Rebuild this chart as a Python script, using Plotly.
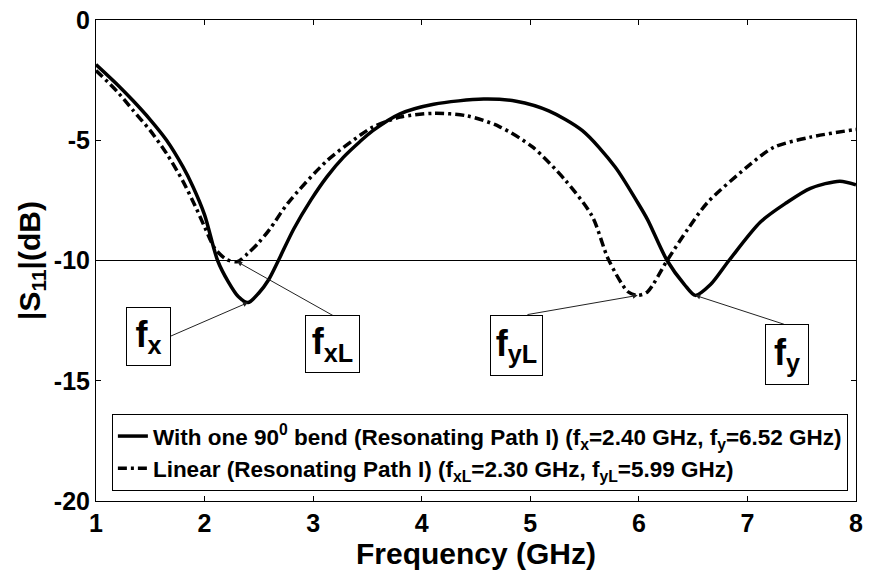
import numpy as np
import plotly.graph_objects as go

# |S11| of the bent resonator (solid) and the linear one (dash-dot), in dB
freq_bend = [1.0, 1.2, 1.34, 1.5, 1.65, 1.8, 1.89, 2.0, 2.12, 2.22, 2.31, 2.40,
             2.50, 2.59, 2.68, 2.82, 2.98, 3.13, 3.28, 3.43, 3.55, 3.80, 4.11,
             4.57, 4.87, 5.17, 5.48, 5.78, 5.99, 6.08, 6.26, 6.42, 6.52, 6.66,
             6.83, 7.12, 7.36, 7.58, 7.85, 8.0]
s11_bend = [-1.85, -2.7, -3.35, -4.15, -5.0, -6.1, -6.9, -8.1, -10.0, -10.9,
            -11.5, -11.75, -11.35, -10.8, -10.0, -8.7, -7.48, -6.5, -5.7, -5.06,
            -4.6, -3.9, -3.5, -3.29, -3.38, -3.78, -4.6, -6.1, -7.6, -8.3, -10.0,
            -11.0, -11.45, -11.0, -10.0, -8.4, -7.6, -7.0, -6.7, -6.85]

freq_lin = [1.0, 1.2, 1.34, 1.5, 1.65, 1.8, 1.91, 2.0, 2.095, 2.2, 2.30, 2.40,
            2.50, 2.60, 2.77, 3.13, 3.43, 3.55, 3.80, 4.11, 4.41, 4.71, 5.02,
            5.32, 5.57, 5.72, 5.90, 5.99, 6.08, 6.26, 6.45, 6.63, 7.0, 7.24,
            7.58, 7.97, 8.0]
s11_lin = [-2.1, -3.0, -3.75, -4.6, -5.55, -6.7, -7.7, -8.6, -9.5, -9.95, -10.05,
           -9.7, -9.25, -8.7, -7.6, -5.84, -4.8, -4.45, -4.04, -3.88, -3.98,
           -4.42, -5.28, -6.65, -8.16, -9.96, -11.3, -11.45, -11.3, -10.0, -8.7,
           -7.6, -6.1, -5.3, -4.87, -4.57, -4.55]

# resonance frequencies (GHz)
f_x, f_y = 2.40, 6.52
f_xL, f_yL = 2.30, 5.99

x_ticks = [1, 2, 3, 4, 5, 6, 7, 8]
y_ticks = [0, -5, -10, -15, -20]

FONT = "Liberation Sans, Arial, sans-serif"

fig = go.Figure()
fig.add_trace(go.Scatter(
    x=freq_bend, y=s11_bend, mode="lines",
    line=dict(color="black", width=3.5, shape="spline", smoothing=0.8),
    name=("With one 90<sup>0</sup> bend (Resonating Path I) "
          f"(f<sub>x</sub>={f_x:.2f} GHz, f<sub>y</sub>={f_y:.2f} GHz)"),
))
fig.add_trace(go.Scatter(
    x=freq_lin, y=s11_lin, mode="lines",
    line=dict(color="black", width=3.5, shape="spline", smoothing=0.8,
              dash="9px,4px,3px,4px"),
    name=("Linear (Resonating Path I) "
          f"(f<sub>xL</sub>={f_xL:.2f} GHz, f<sub>yL</sub>={f_yL:.2f} GHz)"),
))

# -10 dB reference line
fig.add_shape(type="line", xref="paper", x0=0, x1=1, yref="y", y0=-10, y1=-10,
              line=dict(color="black", width=1))

# boxed resonance labels with arrows to the curve minima
labels = [
    ("f<sub>x</sub>", f_x, freq_bend, s11_bend, 1.479, -13.15, 1.675, -13.17, 43, 57),
    ("f<sub>xL</sub>", f_xL, freq_lin, s11_lin, 3.176, -13.46, 3.254, -12.47, 53, 56),
    ("f<sub>yL</sub>", f_yL, freq_lin, s11_lin, 4.873, -13.52, 4.96, -12.26, 51, 59),
    ("f<sub>y</sub>", f_y, freq_bend, s11_bend, 7.369, -13.89, 7.35, -12.67, 42, 59),
]
for text, f0, fx_arr, sy_arr, bx, by, tx, ty, w, h in labels:
    tip_y = float(np.interp(f0, fx_arr, sy_arr))
    fig.add_annotation(x=f0, y=tip_y, xref="x", yref="y", text="",
                       showarrow=True, axref="x", ayref="y", ax=tx, ay=ty,
                       arrowhead=2, arrowsize=1, arrowwidth=1,
                       arrowcolor="#222", standoff=0)
    fig.add_annotation(x=bx, y=by, xref="x", yref="y", text=f"<b>{text}</b>",
                       showarrow=False, width=w, height=h,
                       bordercolor="black", borderwidth=1, borderpad=0,
                       bgcolor="white", align="center", valign="middle",
                       font=dict(family=FONT, size=36, color="black"))

fig.update_layout(
    width=869, height=574,
    margin=dict(l=96, r=6, t=15, b=73),
    paper_bgcolor="white", plot_bgcolor="white",
    font=dict(family=FONT, color="black"),
    showlegend=True,
    legend=dict(
        x=0.0209, y=0.181, xanchor="left", yanchor="top",
        bordercolor="black", borderwidth=1, bgcolor="white",
        font=dict(family=FONT, size=22.5, color="black", weight="bold"),
        itemwidth=30, tracegroupgap=0,
    ),
)
fig.update_xaxes(
    range=[1, 8], tickvals=x_ticks, ticktext=[f"<b>{v}</b>" for v in x_ticks],
    showgrid=False, zeroline=False, showline=True, linecolor="black",
    linewidth=1, mirror="ticks", ticks="inside", ticklen=5, tickcolor="black",
    tickfont=dict(family=FONT, size=25), ticklabeloverflow="allow",
    title=dict(text="<b>Frequency (GHz)</b>", standoff=2,
               font=dict(family=FONT, size=30)),
)
fig.update_yaxes(
    range=[-20, 0], tickvals=y_ticks, ticktext=[f"<b>{v}</b>" for v in y_ticks],
    showgrid=False, zeroline=False, showline=True, linecolor="black",
    linewidth=1, mirror="ticks", ticks="inside", ticklen=5, tickcolor="black",
    tickfont=dict(family=FONT, size=25), ticklabeloverflow="allow",
    title=dict(text="<b>|S<sub>11</sub>|(dB)</b>", standoff=4,
               font=dict(family=FONT, size=30)),
)

fig.write_html("out.html")
